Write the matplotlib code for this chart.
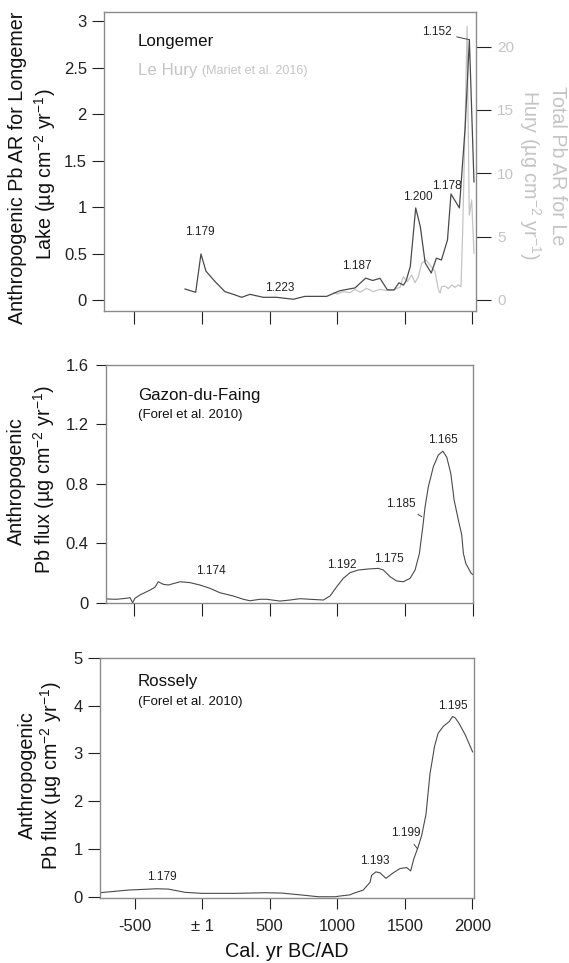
import matplotlib
matplotlib.use("Agg")
import matplotlib.pyplot as plt
import numpy as np

plt.rcParams['font.family'] = ['Liberation Sans', 'DejaVu Sans']
plt.rcParams['mathtext.fontset'] = 'custom'
plt.rcParams['mathtext.rm'] = 'Liberation Sans'
plt.rcParams['mathtext.it'] = 'Liberation Sans:italic'
plt.rcParams['mathtext.bf'] = 'Liberation Sans:bold'

# ---------------- data ----------------
longemer_year = [-126, -47, -8, 29, 95, 169, 231, 293, 354, 453, 552, 675, 761, 921, 1020,
                 1131, 1210, 1262, 1316, 1370, 1420, 1456, 1490, 1510, 1540, 1580, 1614,
                 1650, 1695, 1733, 1770, 1815, 1841, 1903, 1946, 1977, 2011]
longemer_val = [0.118, 0.083, 0.495, 0.31, 0.20, 0.09, 0.061, 0.029, 0.061, 0.029, 0.029,
                0.008, 0.039, 0.039, 0.10, 0.13, 0.235, 0.21, 0.233, 0.11, 0.108, 0.185,
                0.16, 0.21, 0.36, 0.99, 0.79, 0.40, 0.29, 0.45, 0.43, 0.645, 1.14, 0.99,
                1.86, 2.80, 1.27]

hury_year = [975, 1000, 1044, 1094, 1131, 1168, 1218, 1266, 1316, 1365, 1414, 1464, 1488,
             1518, 1550, 1575, 1600, 1624, 1656, 1686, 1723, 1748, 1760, 1772, 1797, 1821,
             1846, 1870, 1895, 1915, 1927, 1945, 1960, 1976, 1994, 2011]
hury_val = [0.6, 0.47, 0.66, 0.58, 0.84, 0.62, 0.92, 0.66, 0.84, 0.75, 0.79, 1.0, 1.84,
            1.45, 1.97, 1.37, 1.84, 2.9, 3.16, 2.76, 2.24, 0.8, 0.55, 1.05, 1.1, 0.9,
            1.18, 1.0, 1.18, 1.05, 5.26, 13.7, 21.6, 6.7, 7.9, 3.7]

gazon_year = [-714, -706, -632, -558, -533, -513, -496, -459, -385, -348, -324, -287, -250,
              -163, -89, -16, 58, 132, 231, 305, 354, 428, 478, 576, 650, 724, 798, 897,
              946, 996, 1044, 1094, 1155, 1229, 1303, 1340, 1390, 1439, 1488, 1538, 1575,
              1607, 1632, 1649, 1673, 1710, 1747, 1780, 1809, 1839, 1864, 1895, 1920,
              1932, 1950, 1987, 2000]
gazon_val = [0.13, 0.025, 0.023, 0.03, 0.034, 0.0, 0.03, 0.052, 0.085, 0.104, 0.141, 0.124,
             0.119, 0.141, 0.135, 0.119, 0.097, 0.067, 0.045, 0.023, 0.013, 0.023, 0.023,
             0.011, 0.018, 0.027, 0.023, 0.018, 0.045, 0.108, 0.164, 0.202, 0.22, 0.227,
             0.231, 0.22, 0.175, 0.146, 0.141, 0.164, 0.22, 0.332, 0.51, 0.646, 0.78,
             0.915, 0.994, 1.02, 0.98, 0.87, 0.69, 0.556, 0.456, 0.332, 0.265, 0.202, 0.19]

rossely_year = [-756, -546, -336, -250, -126, -3, 243, 465, 589, 737, 860, 983, 1020, 1094,
                1118, 1192, 1229, 1242, 1254, 1286, 1316, 1360, 1414, 1464, 1513, 1543,
                1567, 1599, 1624, 1656, 1686, 1703, 1719, 1746, 1786, 1827, 1853, 1873,
                1900, 1948, 2001]
rossely_val = [0.084, 0.14, 0.167, 0.16, 0.092, 0.071, 0.071, 0.084, 0.077, 0.036, 0.0, 0.0,
               0.015, 0.04, 0.07, 0.14, 0.26, 0.3, 0.45, 0.52, 0.50, 0.385, 0.50, 0.59,
               0.61, 0.54, 0.80, 1.05, 1.28, 1.72, 2.58, 2.86, 3.14, 3.42, 3.57, 3.66,
               3.77, 3.74, 3.63, 3.38, 3.03]

x_ticks = [-500, 0, 500, 1000, 1500, 2000]
x_ticklabels = ["-500", "\u00b1 1", "500", "1000", "1500", "2000"]
top_yticks = [0, 0.5, 1, 1.5, 2, 2.5, 3]
top_yticklabels = ["0", "0.5", "1", "1.5", "2", "2.5", "3"]
top_ryticks = [0, 5, 10, 15, 20]
top_ryticklabels = ["0", "5", "10", "15", "20"]
mid_yticks = [0, 0.4, 0.8, 1.2, 1.6]
mid_yticklabels = ["0", "0.4", "0.8", "1.2", "1.6"]
bot_yticks = [0, 1, 2, 3, 4, 5]
bot_yticklabels = ["0", "1", "2", "3", "4", "5"]

# annotations: (label, text_x, text_y, arrow_x, arrow_y)
top_ann = [("1.179", -13, 0.728, None, None), ("1.223", 576, 0.126, None, None),
           ("1.187", 1146, 0.367, None, None), ("1.200", 1597, 1.111, None, None),
           ("1.178", 1808, 1.226, None, None), ("1.152", 1733, 2.878, 1974, 2.80)]
mid_ann = [("1.174", 66, 0.215, None, None), ("1.192", 1033, 0.254, None, None),
           ("1.175", 1382, 0.294, None, None), ("1.185", 1471, 0.664, 1625, 0.579),
           ("1.165", 1778, 1.095, None, None)]
bot_ann = [("1.179", -298, 0.406, None, None), ("1.193", 1275, 0.753, None, None),
           ("1.199", 1504, 1.326, 1593, 1.004), ("1.195", 1854, 3.996, None, None)]

# ---------------- figure ----------------
W, H = 569, 963
fig = plt.figure(figsize=(W / 100, H / 100), dpi=100)

def fax(l, r, t, b):
    return fig.add_axes([l / W, 1 - b / H, (r - l) / W, (b - t) / H])

spine_c = '#8a8a8a'
line_c = '#4a4a4a'
light_c = '#c4c4c4'
tick_fs = 12
ann_fs = 8.5

def style(ax):
    for s in ax.spines.values():
        s.set_color(spine_c)
        s.set_linewidth(1.0)
    ax.tick_params(direction='out', length=9, width=0.8, color='#222222',
                   labelsize=tick_fs, labelcolor='#222222')

def annotate(ax, anns):
    for lab, tx, ty, axx, ayy in anns:
        if axx is None:
            ax.text(tx, ty, lab, fontsize=ann_fs, ha='center', va='center', color='#222222')
        else:
            ax.annotate(lab, xy=(axx, ayy), xytext=(tx, ty), fontsize=ann_fs,
                        ha='center', va='center', color='#222222',
                        arrowprops=dict(arrowstyle='-', color='#444444', lw=0.7,
                                        shrinkA=2, shrinkB=0))

# ---- top panel ----
ax1 = fax(103.6, 475.6, 11.7, 310.7)
style(ax1)
ax1.plot(longemer_year, longemer_val, color=line_c, lw=0.9, zorder=3)
ax1.set_xlim(-728, 2023)
ax1.set_ylim(-0.115, 3.1)
ax1.set_xticks(x_ticks)
ax1.set_xticklabels([])
ax1.tick_params(axis='y', pad=3)
ax1.set_yticks(top_yticks)
ax1.set_yticklabels(top_yticklabels)
ax1r = ax1.twinx()
ax1r.plot(hury_year, hury_val, color=light_c, lw=0.9, zorder=2)
ax1r.set_ylim(-0.845, 22.76)
ax1r.set_yticks(top_ryticks)
ax1r.set_yticklabels(top_ryticklabels)
for s in ax1r.spines.values():
    s.set_visible(False)
ax1r.tick_params(axis='y', direction='out', length=11, width=0.8, color='#222222',
                 labelsize=11, labelcolor=light_c, pad=4.5)
ax1.set_zorder(ax1r.get_zorder() + 1)
ax1.patch.set_visible(False)
annotate(ax1, top_ann)
ax1.text(0.0925, 0.90, "Longemer", transform=ax1.transAxes, fontsize=12.2,
         ha='left', va='center', color='#111111')
ax1.text(0.0925, 0.803, "Le Hury", transform=ax1.transAxes, fontsize=12.2,
         ha='left', va='center', color=light_c)
ax1.text((201.8 - 103.6) / 372, 0.803, "(Mariet et al. 2016)", transform=ax1.transAxes,
         fontsize=9, ha='left', va='center', color=light_c)

unit = "(\u00b5g cm$^{-2}$ yr$^{-1}$)"
lab_fs = 14.2
fig.text(18 / W, 1 - 168 / H, "Anthropogenic Pb AR for Longemer", rotation=90,
         fontsize=lab_fs, ha='center', va='center', color='#111111')
fig.text(45.5 / W, 1 - 174 / H, "Lake " + unit, rotation=90,
         fontsize=lab_fs, ha='center', va='center', color='#111111')
fig.text(558 / W, 1 - 166 / H, "Total Pb AR for Le", rotation=-90,
         fontsize=lab_fs, ha='center', va='center', color=light_c)
fig.text(530 / W, 1 - 175 / H, "Hury " + unit, rotation=-90,
         fontsize=lab_fs, ha='center', va='center', color=light_c)

# ---- middle panel ----
ax2 = fax(105.5, 472.7, 365, 602.7)
style(ax2)
ax2.plot(gazon_year, gazon_val, color=line_c, lw=0.8)
ax2.set_xlim(-714, 2001)
ax2.set_ylim(0, 1.6)
ax2.set_xticks(x_ticks)
ax2.set_xticklabels([])
ax2.set_yticks(mid_yticks)
ax2.set_yticklabels(mid_yticklabels)
ax2.tick_params(axis='y', pad=4.5, length=7.5)
annotate(ax2, mid_ann)
ax2.text((138 - 105.5) / 367.2, 0.870, "Gazon-du-Faing", transform=ax2.transAxes,
         fontsize=12.2, ha='left', va='center', color='#111111')
ax2.text((138 - 105.5) / 367.2, 0.790, "(Forel et al. 2010)", transform=ax2.transAxes,
         fontsize=9.5, ha='left', va='center', color='#111111')
fig.text(16.5 / W, 1 - 481 / H, "Anthropogenic", rotation=90,
         fontsize=lab_fs, ha='center', va='center', color='#111111')
fig.text(44 / W, 1 - 480 / H, "Pb flux " + unit, rotation=90,
         fontsize=lab_fs, ha='center', va='center', color='#111111')

# ---- bottom panel ----
ax3 = fax(100, 473.8, 657.7, 897.7)
style(ax3)
ax3.plot(rossely_year, rossely_val, color=line_c, lw=0.8)
ax3.set_xlim(-756, 2010)
ax3.set_ylim(-0.02, 5.0)
ax3.set_xticks(x_ticks)
ax3.set_xticklabels(x_ticklabels)
ax3.set_yticks(bot_yticks)
ax3.set_yticklabels(bot_yticklabels)
ax3.tick_params(axis='x', pad=7, length=8)
ax3.tick_params(axis='y', pad=3.5)
annotate(ax3, bot_ann)
ax3.text((138 - 100) / 373.8, 0.90, "Rossely", transform=ax3.transAxes,
         fontsize=12.2, ha='left', va='center', color='#111111')
ax3.text((138 - 100) / 373.8, 0.817, "(Forel et al. 2010)", transform=ax3.transAxes,
         fontsize=9.5, ha='left', va='center', color='#111111')
ax3.set_xlabel("Cal. yr BC/AD", fontsize=14.3, color='#111111', labelpad=6)
fig.text(27 / W, 1 - 775 / H, "Anthropogenic", rotation=90,
         fontsize=lab_fs, ha='center', va='center', color='#111111')
fig.text(51 / W, 1 - 776 / H, "Pb flux " + unit, rotation=90,
         fontsize=lab_fs, ha='center', va='center', color='#111111')

fig.savefig("out.png", dpi=100)
